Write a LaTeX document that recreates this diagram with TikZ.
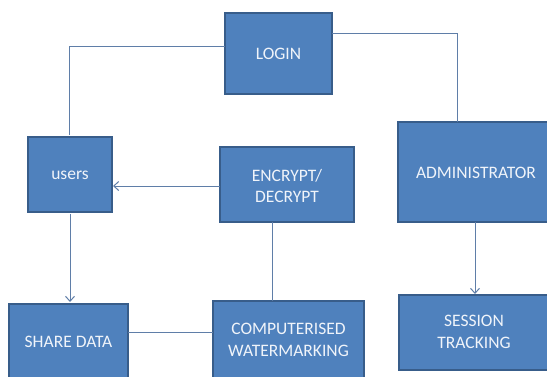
\documentclass[tikz,border=0pt]{standalone}
\usepackage{fontspec}
\setmainfont{Carlito}
\usetikzlibrary{arrows.meta}
\definecolor{boxfill}{RGB}{79,129,189}
\definecolor{boxline}{RGB}{56,93,138}
\definecolor{conn}{RGB}{95,126,168}
\definecolor{txt}{RGB}{240,244,250}
\tikzset{
  blk/.style={draw=boxline, line width=1.5pt, fill=boxfill},
  lbl/.style={text=txt, align=center, inner sep=0pt, font=\fontsize{17.5}{21.5}\selectfont},
  conline/.style={draw=conn, line width=1pt},
  arr/.style={conline, -{Straight Barb[length=5pt,width=9pt]}}
}
\begin{document}
\begin{tikzpicture}[x=1pt,y=-1pt]
\useasboundingbox (0,0) rectangle (547,376);
\begin{scope}
\clip (0,0) rectangle (547,376);
\draw[blk] (225,13) rectangle (332,94);
\node[lbl] (login) at (278.5,53.5) {LOGIN};
\draw[blk] (28,137) rectangle (112,212);
\node[lbl] (users) at (70,175) {users};
\draw[blk] (220,147) rectangle (354,222);
\node[lbl] (enc) at (287,186) {ENCRYPT/\\DECRYPT};
\draw[blk] (398,122) rectangle (554,222);
\node[lbl] (admin) at (476,173) {ADMINISTRATOR};
\draw[blk] (9,304) rectangle (128,382);
\node[lbl] (share) at (68.5,342) {SHARE DATA};
\draw[blk] (213,301) rectangle (364,382);
\node[lbl] (comp) at (288.5,340) {COMPUTERISED\\WATERMARKING};
\draw[blk] (399,295) rectangle (552,370);
\node[lbl] (sess) at (474,332) {SESSION\\TRACKING};
\end{scope}
\coordinate (loginL) at (225,46);
\coordinate (loginR) at (332,33);
\coordinate (usersT) at (69,135);
\coordinate (usersR) at (113,186);
\coordinate (usersB) at (70,214);
\coordinate (encL) at (220,186);
\coordinate (encB) at (272,222);
\coordinate (adminT) at (457,122);
\coordinate (adminB) at (475,222);
\coordinate (shareT) at (70,302);
\coordinate (shareR) at (128,332);
\coordinate (compL) at (213,332);
\coordinate (compT) at (272,301);
\coordinate (sessT) at (475,294);
\draw[conline] (loginL) -| (usersT);
\draw[conline] (loginR) -| (adminT);
\draw[arr] (encL) -- (usersR);
\draw[arr] (usersB) -- (shareT);
\draw[conline] (encB) -- (compT);
\draw[conline] (shareR) -- (compL);
\draw[arr] (adminB) -- (sessT);
\end{tikzpicture}
\end{document}
